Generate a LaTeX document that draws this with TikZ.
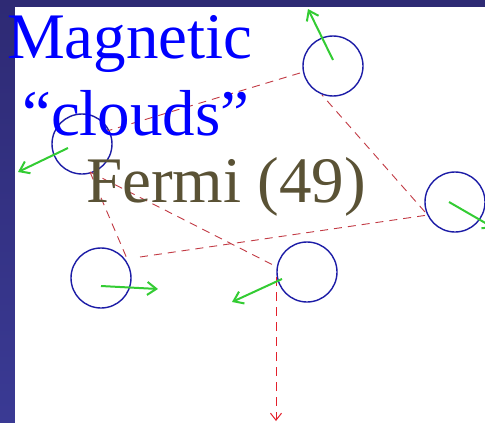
\documentclass[tikz,border=0pt]{standalone}
\usepackage{fontspec}
\setmainfont{Liberation Serif}
\usetikzlibrary{arrows.meta}
\definecolor{bgblue}{HTML}{2E2A74}
\definecolor{bgblue2}{HTML}{3A3A94}
\definecolor{cloudblue}{HTML}{1C1CA6}
\definecolor{pathred}{HTML}{C23A44}
\definecolor{exitred}{HTML}{E3202C}
\definecolor{velgreen}{HTML}{33CC33}
\definecolor{fermicol}{HTML}{5A5235}
\definecolor{purblue}{HTML}{0000FF}
\tikzset{
  cloud/.style={circle, draw=cloudblue, line width=1.4pt, minimum size=60pt, inner sep=0pt},
  track/.style={draw=pathred, line width=0.9pt, dash pattern=on 8pt off 6pt},
  exittrack/.style={draw=exitred, line width=1pt, dash pattern=on 9pt off 6pt, -{Straight Barb[length=7pt,width=11pt]}},
  velocity/.style={draw=velgreen, line width=2pt, -{Straight Barb[length=9pt,width=13pt]}},
  bigtext/.style={font=\fontsize{65}{78}\selectfont, inner sep=0pt, anchor=base west}
}
\begin{document}
\begin{tikzpicture}[x=1pt,y=-1pt]
\useasboundingbox (0,0) rectangle (485,423);
\shade[top color=bgblue, bottom color=bgblue2] (0,0) rectangle (485,423);
\fill[white] (15,7) rectangle (485,423);
% clouds
\node[cloud] (c1) at (333,66) {};
\node[cloud] (c2) at (82,144) {};
\node[cloud] (c3) at (455,202) {};
\node[cloud] (c4) at (101,278) {};
\node[cloud] (c5) at (307,272) {};
% reflection points
\coordinate (p1) at (90,172);
\coordinate (p2) at (128,261);
\coordinate (p3) at (140,257);
\coordinate (p4) at (428,215);
\coordinate (p5) at (425,212);
\coordinate (p6) at (322,95);
\coordinate (p7) at (300,73);
\coordinate (p8) at (107,131);
\coordinate (p9) at (277,267);
\coordinate (p10) at (276,277);
\coordinate (exit) at (276,421);
% particle track
\draw[track] (p1) -- (p2);
\draw[track] (p3) -- (p4);
\draw[track] (p5) -- (p6);
\draw[track] (p7) -- (p8);
\draw[track] (p1) -- (p9);
\draw[exittrack] (p10) -- (exit);
% velocities
\coordinate (v1) at (308,9);
\coordinate (v2) at (18,172);
\coordinate (v3) at (494,228);
\coordinate (v4) at (158,289);
\coordinate (v5) at (232,302);
\draw[velocity] (333,60) -- (v1);
\draw[velocity] (68,148) -- (v2);
\draw[velocity] (449,202) -- (v3);
\draw[velocity] (101,286) -- (v4);
\draw[velocity] (282,279) -- (v5);
% labels
\node[bigtext, text=purblue] (t1) at (7,58) {Magnetic};
\node[bigtext, text=purblue] (t2) at (22,135) {“clouds”};
\node[bigtext, text=fermicol] (t3) at (86,202) {Fermi (49)};
\end{tikzpicture}
\end{document}
